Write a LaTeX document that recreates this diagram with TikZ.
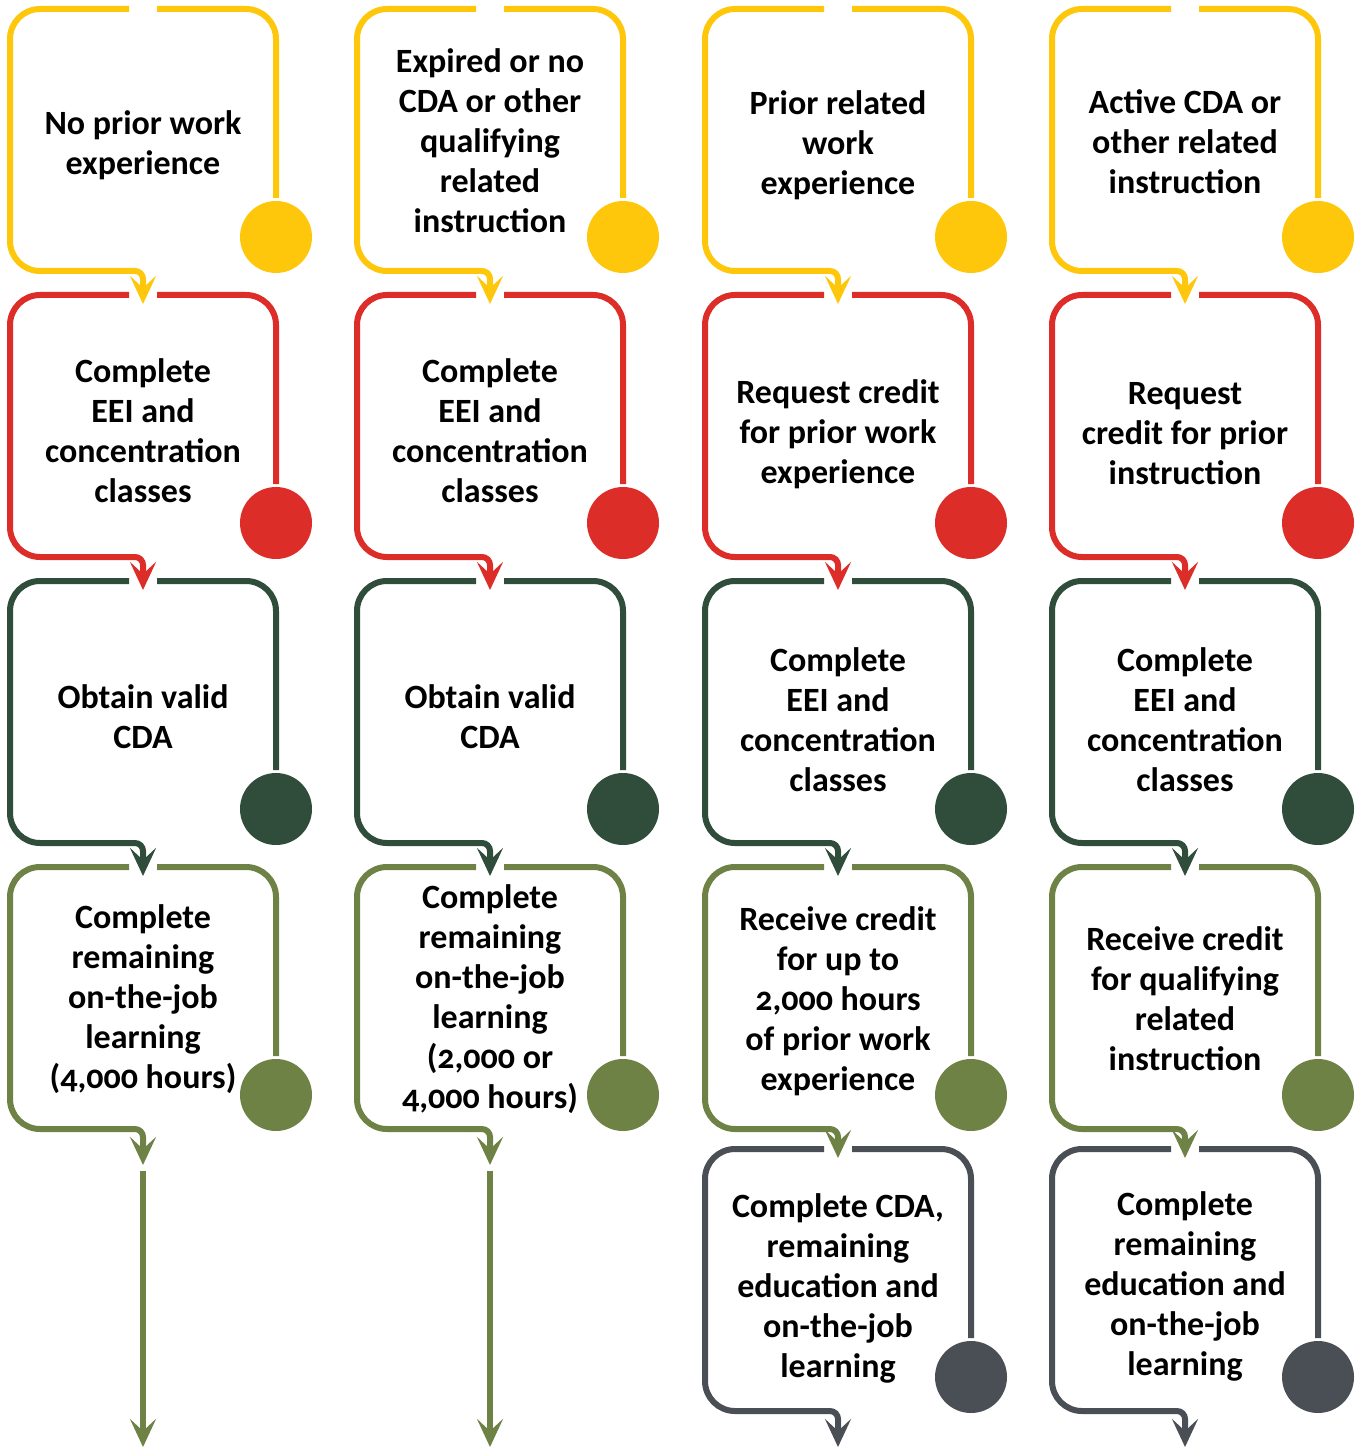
\documentclass[tikz,border=0pt]{standalone}
\usepackage{fontspec}
\setmainfont{Carlito}[Numbers=OldStyle]
\usetikzlibrary{arrows.meta}
\definecolor{cYellow}{RGB}{255,199,11}
\definecolor{cRed}{RGB}{221,45,40}
\definecolor{cGreen}{RGB}{48,76,58}
\definecolor{cOlive}{RGB}{111,130,69}
\definecolor{cGrey}{RGB}{74,78,85}

\begin{document}
\begin{tikzpicture}[x=0.5pt, y=-0.5pt, line width=3pt, box/.style={minimum width=130pt, minimum height=128pt, inner sep=0pt}, boxtext/.style={align=center, font=\bfseries\fontsize{17}{20}\selectfont, yshift=-2.5pt}, dot/.style={circle, fill, minimum size=36pt, inner sep=0pt}, outline/.style={rounded corners=15pt}, flow/.style={rounded corners=4pt, arrows={-Stealth[length=14pt, width=13pt, inset=6pt]}}]
	\useasboundingbox (0,0) rectangle (1359,1449);

	% column a
	\node[box, label={[boxtext]center:{No prior work\\experience}}] (a1) at (143,140) {};
	\node[box, label={[boxtext]center:{Complete\\EEI and\\concentration\\classes}}] (a2) at (143,426) {};
	\node[box, label={[boxtext]center:{Obtain valid\\CDA}}] (a3) at (143,712) {};
	\node[box, label={[boxtext, yshift=2pt]center:{Complete\\remaining\\on-the-job\\learning\\(4,000 hours)}}] (a4) at (143,998) {};
	\coordinate (aTop) at (143,1171);
	\coordinate (aEnd) at (143,1447);

	% column b
	\node[box, label={[boxtext, yshift=2pt]center:{Expired or no\\CDA or other\\qualifying\\related\\instruction}}] (b1) at (490,140) {};
	\node[box, label={[boxtext]center:{Complete\\EEI and\\concentration\\classes}}] (b2) at (490,426) {};
	\node[box, label={[boxtext]center:{Obtain valid\\CDA}}] (b3) at (490,712) {};
	\node[box, label={[boxtext, yshift=2pt]center:{Complete\\remaining\\on-the-job\\learning\\(2,000 or\\4,000 hours)}}] (b4) at (490,998) {};
	\coordinate (bTop) at (490,1171);
	\coordinate (bEnd) at (490,1447);

	% column c
	\node[box, label={[boxtext]center:{Prior related\\work\\experience}}] (c1) at (838,140) {};
	\node[box, label={[boxtext, yshift=-1.5pt]center:{Request credit\\for prior work\\experience}}] (c2) at (838,426) {};
	\node[box, label={[boxtext, yshift=-1.5pt]center:{Complete\\EEI and\\concentration\\classes}}] (c3) at (838,712) {};
	\node[box, label={[boxtext, yshift=1pt]center:{Receive credit\\for up to\\2,000 hours\\of prior work\\experience}}] (c4) at (838,998) {};
	\node[box, label={[boxtext, yshift=-1.5pt]center:{Complete CDA,\\remaining\\education and\\on-the-job\\learning}}] (c5) at (838,1280) {};
	\coordinate (cEnd) at (838,1447);

	% column d
	\node[box, label={[boxtext, yshift=1.5pt]center:{Active CDA or\\other related\\instruction}}] (d1) at (1185,140) {};
	\node[box, label={[boxtext, yshift=-1.5pt]center:{Request\\credit for prior\\instruction}}] (d2) at (1185,426) {};
	\node[box, label={[boxtext, yshift=-1.5pt]center:{Complete\\EEI and\\concentration\\classes}}] (d3) at (1185,712) {};
	\node[box, label={[boxtext, yshift=2pt]center:{Receive credit\\for qualifying\\related\\instruction}}] (d4) at (1185,998) {};
	\node[box, label={[boxtext, yshift=-0.5pt]center:{Complete\\remaining\\education and\\on-the-job\\learning}}] (d5) at (1185,1280) {};
	\coordinate (dEnd) at (1185,1447);

	% frames, dots and arrows
	\foreach \b/\n/\c/\s in {a1/a2/cYellow/-4.5pt, a2/a3/cRed/-4.5pt, a3/a4/cGreen/-4.5pt, a4/aTop/cOlive/3pt,
		b1/b2/cYellow/-4.5pt, b2/b3/cRed/-4.5pt, b3/b4/cGreen/-4.5pt, b4/bTop/cOlive/3pt,
		c1/c2/cYellow/-4.5pt, c2/c3/cRed/-4.5pt, c3/c4/cGreen/-4.5pt, c4/c5/cOlive/-4.5pt, c5/cEnd/cGrey/0pt,
		d1/d2/cYellow/-4.5pt, d2/d3/cRed/-4.5pt, d3/d4/cGreen/-4.5pt, d4/d5/cOlive/-4.5pt, d5/dEnd/cGrey/0pt} {
		\node[dot, fill=\c] (\b dot) at ([yshift=-48.5pt]\b.east) {};
		\draw[\c, outline] ([xshift=7pt]\b.north) -| (\b dot.north);
		\draw[\c, outline] ([xshift=-7pt]\b.north) -| (\b.south west) -- ([xshift=-10pt]\b.south);
		\draw[\c, flow, shorten >=\s] ([xshift=-10pt]\b.south) -| (\n);
	}

	% tails below the last steps
	\draw[cOlive, flow] (aTop) -- (aEnd);
	\draw[cOlive, flow] (bTop) -- (bEnd);
\end{tikzpicture}
\end{document}
